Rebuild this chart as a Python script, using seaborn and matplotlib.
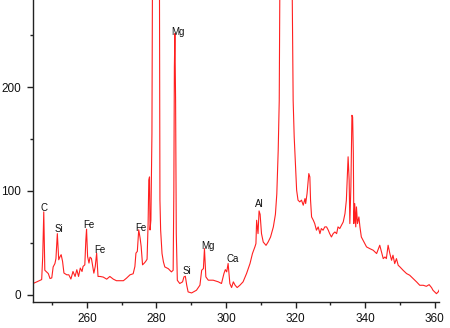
import matplotlib
matplotlib.use("Agg")
import matplotlib.pyplot as plt
import seaborn as sns
import pandas as pd
from matplotlib.ticker import MultipleLocator

wavelength = [244.5, 245.6, 247.0, 247.3, 247.6, 247.9, 248.4, 248.9, 249.4, 249.9,
              250.3, 250.8, 251.1, 251.5, 251.9, 252.3, 252.6, 253.0, 253.4, 254.2,
              254.8, 255.4, 256.0, 256.6, 257.1, 257.6, 258.1, 258.6, 258.9, 259.4,
              259.7, 259.9, 260.2, 260.6, 260.9, 261.3, 261.6, 262.0, 262.4, 262.8,
              263.2, 263.8, 264.7, 265.7, 266.6, 267.6, 268.5, 269.5, 270.5, 271.4,
              272.4, 273.3, 273.8, 274.1, 274.5, 274.9, 275.3, 275.6, 276.0, 276.5,
              276.9, 277.3, 277.6, 277.8, 278.0, 278.15, 278.4, 278.7, 279.0, 279.5,
              280.0, 280.3, 280.8, 281.0, 281.2, 281.6, 282.0, 282.4, 283.4, 284.3,
              284.8, 285.0, 285.15, 285.3, 285.5, 285.7, 286.0, 286.7, 287.5, 287.9,
              288.3, 288.7, 289.1, 290.1, 291.5, 292.5, 293.0, 293.5, 293.8, 294.2,
              294.9, 296.3, 297.8, 298.7, 299.4, 299.8, 300.2, 300.6, 301.1, 301.6,
              302.1, 302.6, 303.2, 304.0, 304.9, 305.9, 306.9, 307.6, 308.3, 308.6,
              308.8, 309.2, 309.5, 309.8, 310.2, 310.7, 311.5, 312.1, 312.8, 313.6,
              314.2, 314.6, 315.0, 315.3, 315.8, 316.5, 317.3, 318.0, 318.7, 319.3,
              319.6, 320.0, 320.3, 320.7, 321.2, 321.7, 322.2, 322.7, 322.9, 323.3,
              323.8, 324.1, 324.3, 324.6, 325.1, 325.5, 326.0, 326.5, 327.0, 327.4,
              327.9, 328.4, 328.9, 329.4, 329.8, 330.3, 330.8, 331.3, 331.8, 332.2,
              332.7, 333.2, 333.7, 334.2, 334.6, 335.1, 335.4, 335.6, 335.9, 336.2,
              336.4, 336.6, 336.75, 337.0, 337.3, 337.5, 337.8, 338.2, 338.5, 338.9,
              339.4, 340.4, 341.3, 342.3, 343.3, 344.2, 344.7, 345.2, 345.7, 346.1,
              346.6, 346.9, 347.1, 347.6, 348.0, 348.5, 349.0, 349.5, 350.0, 350.9,
              351.9, 352.8, 353.8, 354.8, 355.7, 356.7, 357.6, 358.4, 359.1, 359.5,
              360.5, 361.0, 361.5]
intensity = [10.6, 12.2, 14.4, 36.6, 79.7, 23.4, 21.8, 20.2, 15.4, 16.0,
             26.6, 29.8, 34.6, 58.7, 33.5, 36.7, 38.4, 32.0, 20.7, 19.0,
             19.0, 14.9, 22.2, 17.4, 23.9, 17.4, 25.5, 22.2, 27.1, 28.6,
             52.7, 63.0, 36.7, 30.3, 36.0, 34.8, 28.6, 20.6, 27.0, 39.9,
             17.4, 17.4, 16.8, 14.8, 17.4, 14.8, 13.3, 13.3, 13.3, 15.8,
             19.0, 20.0, 27.0, 39.9, 41.6, 62.4, 54.4, 46.4, 28.6, 30.3,
             31.9, 34.0, 68.6, 110.4, 113.4, 62.2, 71.6, 155.2, 450.0, 900.0,
             700.0, 850.0, 400.0, 91.1, 62.2, 39.5, 31.5, 26.6, 24.9, 21.8,
             23.4, 100.5, 219.5, 251.6, 187.4, 58.7, 13.7, 10.6, 12.2, 17.0,
             17.6, 9.0, 2.5, 1.5, 4.1, 9.0, 23.4, 25.0, 44.3, 17.0,
             13.8, 13.8, 12.2, 10.6, 20.2, 24.0, 21.8, 29.9, 10.6, 6.7,
             12.2, 9.0, 6.7, 9.0, 12.2, 20.2, 29.9, 39.5, 45.9, 49.1,
             71.6, 58.7, 80.6, 77.3, 58.7, 50.6, 47.4, 50.6, 55.4, 65.1,
             77.3, 97.0, 138.8, 187.0, 500.0, 650.0, 550.0, 600.0, 420.0, 187.0,
             152.0, 123.0, 100.6, 91.0, 89.3, 91.0, 86.1, 92.5, 87.7, 97.4,
             116.6, 113.4, 91.0, 74.8, 71.6, 68.4, 62.0, 65.2, 58.7, 63.6,
             62.0, 65.2, 65.2, 62.0, 58.7, 55.5, 58.7, 60.3, 58.7, 65.2,
             63.6, 66.8, 70.0, 78.0, 91.0, 132.8, 110.3, 68.4, 103.8, 172.8,
             171.2, 136.0, 68.4, 87.7, 65.2, 84.5, 68.4, 74.8, 65.2, 55.5,
             52.3, 45.9, 44.3, 42.7, 39.5, 47.5, 41.1, 34.6, 36.2, 34.6,
             47.5, 42.7, 39.5, 33.0, 37.9, 29.8, 34.6, 28.2, 26.6, 23.4,
             20.2, 18.6, 15.4, 12.1, 8.9, 8.9, 7.9, 9.5, 6.6, 4.1,
             0.8, 2.5, 5.7]

label_text = ["C", "Si", "Fe", "Fe", "Fe", "Mg", "Si", "Mg", "Ca", "Al"]
label_x = [247.6, 251.8, 260.5, 263.8, 275.6, 286.3, 288.7, 294.9, 301.8, 309.7]
label_y = [83.0, 63.6, 66.8, 42.7, 64.6, 253.0, 22.8, 46.9, 34.7, 87.1]

sns.set_style("ticks")
plt.rcParams['font.family'] = ['Liberation Sans', 'DejaVu Sans']

df = pd.DataFrame({"wavelength": wavelength, "intensity": intensity})

fig = plt.figure(figsize=(4.5, 3.28), dpi=100)
ax = fig.add_axes([0.0733, 0.080, 0.902, 0.92])
sns.lineplot(data=df, x="wavelength", y="intensity", estimator=None, sort=False,
             color="#ff2020", linewidth=0.8, ax=ax)

for t, x, y in zip(label_text, label_x, label_y):
    ax.text(x, y, t, ha="center", va="center", fontsize=7, color="#111111")

ax.set_xlim(244.5, 361.2)
ax.set_ylim(-7, 284)
ax.xaxis.set_major_locator(MultipleLocator(20))
ax.xaxis.set_minor_locator(MultipleLocator(10))
ax.yaxis.set_major_locator(MultipleLocator(100))
ax.yaxis.set_minor_locator(MultipleLocator(50))
ax.tick_params(which="major", length=4.3, width=1, labelsize=8.5, color="#222222",
               labelcolor="#111111")
ax.tick_params(axis="y", which="major", pad=4.5)
ax.tick_params(axis="x", which="major", pad=3.8)
ax.tick_params(which="minor", length=2.2, width=1, color="#222222")
ax.set_xlabel("")
ax.set_ylabel("")
for s in ["top", "right"]:
    ax.spines[s].set_visible(False)
for s in ["left", "bottom"]:
    ax.spines[s].set_color("#222222")
    ax.spines[s].set_linewidth(1)

fig.savefig("out.png", dpi=100)
